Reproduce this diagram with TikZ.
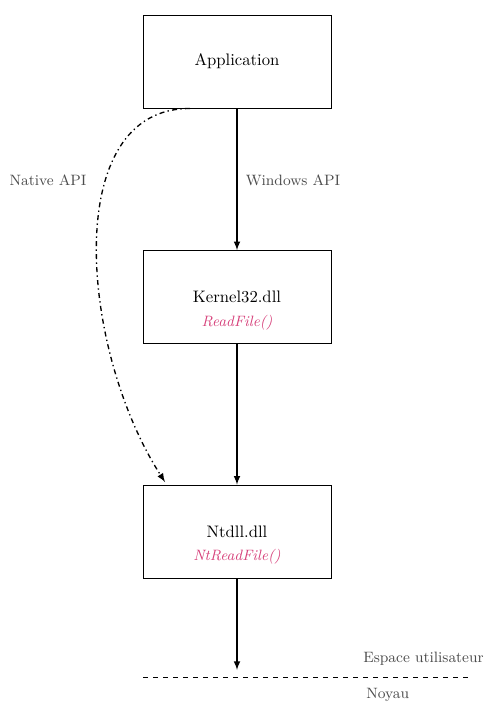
\documentclass[tikz,border=0pt]{standalone}
\usepackage{color}
\usepackage{tikz}
\usetikzlibrary{arrows}
\definecolor{fnpink}{RGB}{214,64,122}

\begin{document}
\begin{tikzpicture}[x=0.6pt, y=-0.6pt,
    dllbox/.style={draw, rectangle, minimum width=112.8pt, minimum height=55.8pt},
    fnname/.style={text=fnpink, font=\small\itshape},
    apilabel/.style={text=black!70, font=\small},
    callarrow/.style={->, >=latex, line width=0.8pt}]
          \useasboundingbox (0,0) rectangle (485,702);
           \node[dllbox](app)  at (237, 61.5) {Application};
           \node[dllbox](kernel)  at (237, 297) {};
          \node[dllbox](ntdll)  at (237, 531.5) {};
      \node(kerneltxt)  at (237, 297) {Kernel32.dll};
      \node[fnname](kernelfn)  at (237, 323) {ReadFile()};
      \node(ntdlltxt)  at (237, 531.5) {Ntdll.dll};
      \node[fnname](ntdllfn)  at (237, 557) {NtReadFile()};
      \node[apilabel](winapi)  at (293, 180) {Windows API};
      \node[apilabel](natapi)  at (48, 180) {Native API};
      \node[apilabel, anchor=east, inner sep=0pt](user)  at (484, 659) {Espace utilisateur};
      \node[apilabel, anchor=west, inner sep=0pt](kern)  at (366, 695) {Noyau};
      \coordinate (natstart) at (190, 108.5);
      \coordinate (natend) at (165, 482);
      \coordinate (bound) at (237, 670);
      \coordinate (lineleft) at (143, 677);
      \coordinate (lineright) at (470, 677);
      \draw[callarrow] (app) -- (kernel);
      \draw[callarrow] (kernel) -- (ntdll);
      \draw[callarrow] (ntdll) -- (bound);
       \draw[callarrow, dash dot] (natstart) .. controls (60, 108) and (80, 350) .. (natend);
        \draw[dashed, line width=0.5pt] (lineleft) -- (lineright);
          \end{tikzpicture}
\end{document}
